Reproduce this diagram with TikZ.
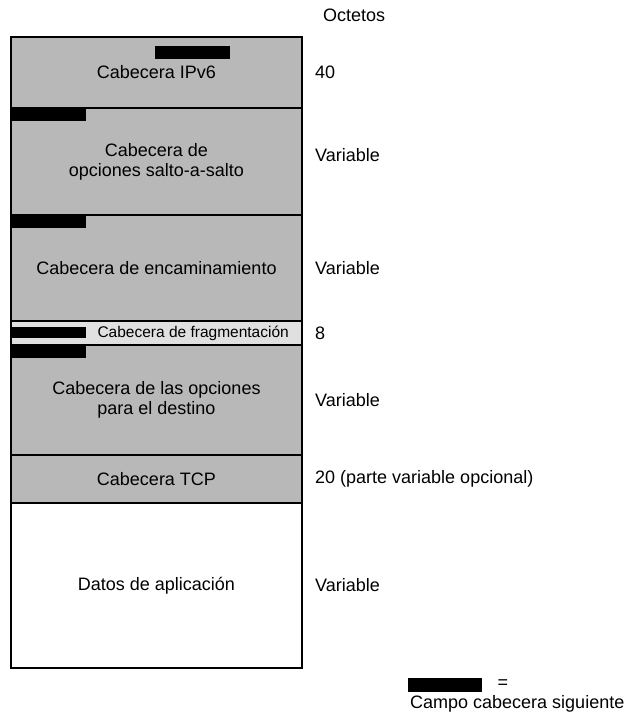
\documentclass[tikz,border=0pt]{standalone}
\usepackage{fontspec}
\setmainfont{Liberation Sans}
\usepackage{tikz}
\usetikzlibrary{positioning}
\tikzset{
	capa/.style={
		draw, line width=2pt, fill=black!28,
		minimum width=291pt, inner sep=0pt, outer sep=0pt,
		align=center, text=black,
		font=\fontsize{18}{20}\selectfont
	},
	siguiente/.style={
		fill=black, minimum width=75pt, minimum height=13pt,
		inner sep=0pt, anchor=north west
	},
	valor/.style={
		font=\fontsize{18}{20}\selectfont, inner sep=0pt
	}
}

\begin{document}
\begin{tikzpicture}[x=1pt,y=-1pt]
				\useasboundingbox (0,0) rectangle (632,715);
				\node[capa,minimum height=71pt]  (ipv6) at (156.5,72.5) {Cabecera IPv6};
				\node[capa,minimum height=107pt] (salto) [below=0pt of ipv6] {Cabecera de\\opciones salto-a-salto};
				\node[capa,minimum height=106pt] (encam) [below=0pt of salto] {Cabecera de encaminamiento};
				\node[capa,minimum height=24pt,fill=black!12] (frag) [below=0pt of encam] {};
				\node[capa,minimum height=110pt] (destino) [below=0pt of frag] {Cabecera de las opciones\\para el destino};
				\node[capa,minimum height=48pt]  (tcp) [below=0pt of destino] {Cabecera TCP};
				\node[capa,minimum height=165pt,fill=white] (datos) [below=0pt of tcp] {Datos de aplicaci\'on};
				\node[font=\fontsize{15.5}{17}\selectfont,inner sep=0pt] (fragtxt) [left=13pt of frag.east] {Cabecera de fragmentaci\'on};
				\draw[line width=2.5pt] (ipv6.north west) rectangle (datos.south east);
				\node[siguiente] (sig0) at (155,46) {};
				\node[siguiente] (sig1) at (salto.north west) {};
				\node[siguiente] (sig2) at (encam.north west) {};
				\node[siguiente,minimum height=11pt,anchor=west] (sig3) at ([yshift=0.5pt]frag.west) {};
				\node[siguiente] (sig4) at (destino.north west) {};
				\node[valor,anchor=west] (octetos) at (323,15) {Octetos};
				\node[valor] (v0) [right=13pt of ipv6] {40};
				\node[valor] (v1) [right=13pt of salto,yshift=6pt] {Variable};
				\node[valor] (v2) [right=13pt of encam] {Variable};
				\node[valor] (v3) [right=13pt of frag] {8};
				\node[valor] (v4) [right=13pt of destino] {Variable};
				\node[valor] (v5) [right=13pt of tcp] {20 (parte variable opcional)};
				\node[valor] (v6) [right=13pt of datos] {Variable};
				\node[siguiente,minimum width=74pt,minimum height=14pt] (leyenda) at (408,678) {};
				\node[valor] (igual) at (503,684) {=};
				\node[valor,anchor=base west] (campo) at (410,708) {Campo cabecera siguiente};
			\end{tikzpicture}
\end{document}
